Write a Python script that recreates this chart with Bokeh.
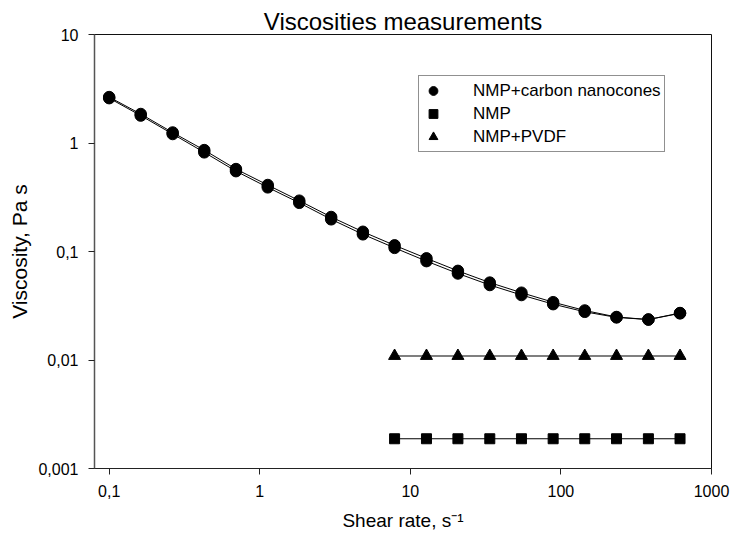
from bokeh.plotting import figure
from bokeh.models import Range1d, FixedTicker, CustomJSTickFormatter, Legend, LegendItem
from bokeh.embed import file_html
from bokeh.resources import INLINE

# Shear rates of the logarithmic ramp (1/s)
shear_rate = [0.1, 0.162, 0.264, 0.428, 0.695, 1.13, 1.83, 2.98, 4.84, 7.86,
              12.8, 20.7, 33.7, 54.7, 88.8, 144, 234, 381, 618]
# Two runs of the carbon nanocone dispersion (Pa s)
nanocones_run1 = [2.65, 1.85, 1.25, 0.86, 0.575, 0.41, 0.294, 0.208, 0.152, 0.114,
                  0.0865, 0.0663, 0.0517, 0.0417, 0.0341, 0.0286, 0.0249, 0.0236, 0.0271]
nanocones_run2 = [2.59, 1.79, 1.21, 0.82, 0.55, 0.39, 0.281, 0.198, 0.144, 0.108,
                  0.0815, 0.0627, 0.0491, 0.0397, 0.0327, 0.0278, 0.0247, 0.0236, 0.0269]
# Solvent and binder solution, measured over the upper part of the ramp
shear_rate_high = [7.86, 12.8, 20.7, 33.7, 54.7, 88.8, 144, 234, 381, 618]
nmp = [0.00188, 0.00188, 0.00188, 0.00188, 0.00188, 0.00188, 0.00188, 0.00188, 0.00188, 0.00188]
nmp_pvdf = [0.0109, 0.0109, 0.0109, 0.0109, 0.0109, 0.0109, 0.0109, 0.0109, 0.0109, 0.0109]

x_ticks = [0.1, 1, 10, 100, 1000]
y_ticks = [0.001, 0.01, 0.1, 1, 10]

FONT = "Liberation Sans"

p = figure(width=732, height=536, x_axis_type="log", y_axis_type="log",
           x_range=Range1d(0.0799, 1000), y_range=Range1d(0.001, 10),
           output_backend="svg", toolbar_location=None,
           min_border_left=94, min_border_right=21, min_border_top=34, min_border_bottom=68,
           title="Viscosities measurements")

p.title.align = "center"
p.title.text_font = FONT
p.title.text_font_size = "24px"
p.title.text_font_style = "normal"
p.title.text_color = "black"
p.title.standoff = 0

p.grid.visible = False
p.outline_line_color = "#111111"
p.outline_line_width = 1
p.background_fill_color = "white"
p.border_fill_color = "white"

p.xaxis.ticker = FixedTicker(ticks=x_ticks, minor_ticks=[])
p.yaxis.ticker = FixedTicker(ticks=y_ticks, minor_ticks=[])
p.xaxis.formatter = CustomJSTickFormatter(code="return tick.toString().replace('.', ',')")
p.yaxis.formatter = CustomJSTickFormatter(code="return tick.toString().replace('.', ',')")

for ax in (p.xaxis[0], p.yaxis[0]):
    ax.major_tick_in = 0
    ax.major_tick_out = 6
    ax.minor_tick_in = 0
    ax.minor_tick_out = 0
    ax.major_label_text_font = FONT
    ax.major_label_text_font_size = "16px"
    ax.major_label_text_color = "black"
    ax.axis_label_text_font = FONT
    ax.axis_label_text_font_style = "normal"
    ax.axis_label_text_color = "black"
    ax.major_tick_line_color = "#222222"

p.xaxis.axis_label_text_font_size = "19px"
p.yaxis.axis_label_text_font_size = "21px"
p.xaxis.axis_line_color = "#222222"
p.yaxis.axis_line_color = "#555555"
p.yaxis.axis_line_width = 1.5
p.xaxis.major_label_standoff = 10
p.yaxis.major_label_standoff = 10
p.xaxis.axis_label = "Shear rate, s\u207b\u00b9"
p.yaxis.axis_label = "Viscosity, Pa s"
p.xaxis.axis_label_standoff = 10
p.yaxis.axis_label_standoff = 4

# Nanocone dispersion: two close runs drawn as a double trace
p.line(shear_rate, nanocones_run1, line_color="black", line_width=1)
p.line(shear_rate, nanocones_run2, line_color="black", line_width=1)
r_cones = p.scatter(shear_rate, nanocones_run1, marker="circle", size=11.5,
                    fill_color="black", line_color="black")
p.scatter(shear_rate, nanocones_run2, marker="circle", size=11.5,
          fill_color="black", line_color="black")

# NMP + PVDF
p.line(shear_rate_high, nmp_pvdf, line_color="#555555", line_width=1.5)
r_pvdf = p.scatter(shear_rate_high, nmp_pvdf, marker="triangle", size=12,
                   fill_color="black", line_color="black")

# Pure NMP
p.line(shear_rate_high, nmp, line_color="black", line_width=1)
r_nmp = p.scatter(shear_rate_high, nmp, marker="square", size=10,
                  fill_color="black", line_color="black")

legend = Legend(items=[LegendItem(label="NMP+carbon nanocones", renderers=[r_cones]),
                       LegendItem(label="NMP", renderers=[r_nmp]),
                       LegendItem(label="NMP+PVDF", renderers=[r_pvdf])],
                location=(324, 316))
legend.border_line_color = "#222222"
legend.border_line_width = 1
legend.background_fill_color = "white"
legend.background_fill_alpha = 1
legend.label_text_font = FONT
legend.label_text_font_size = "17px"
legend.label_text_color = "black"
legend.glyph_width = 22
legend.glyph_height = 23
legend.label_height = 23
legend.label_standoff = 29
legend.padding = 3
legend.spacing = 0
legend.margin = 0
p.add_layout(legend)

open("out.html", "w").write(file_html(p, INLINE))
